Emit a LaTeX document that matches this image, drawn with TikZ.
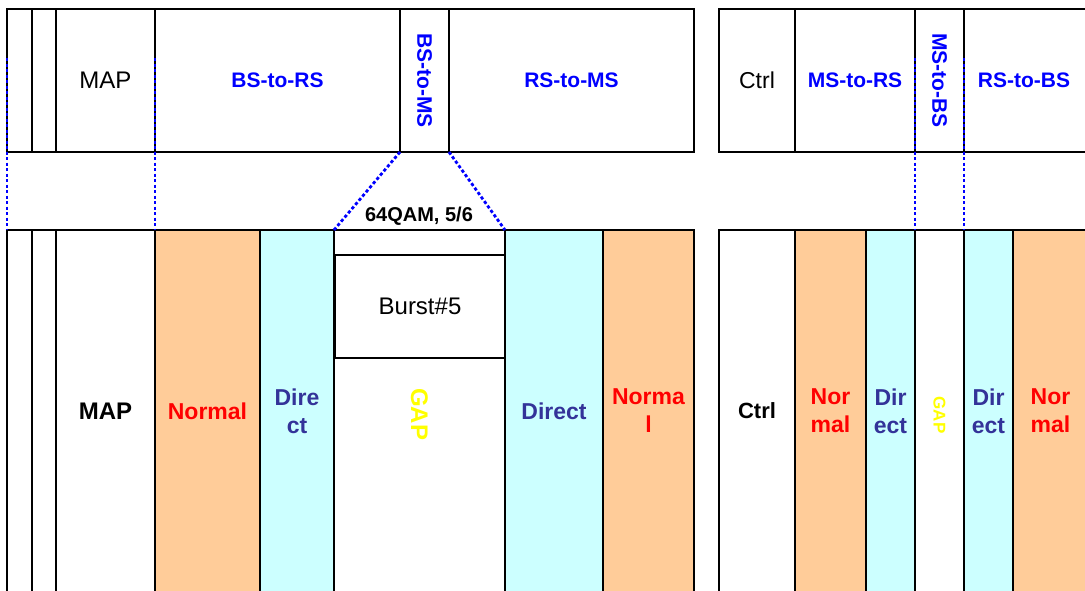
\documentclass[tikz,border=0pt]{standalone}
\usepackage{fontspec}
\usepackage{graphicx}
\setmainfont{Liberation Sans}
\definecolor{normalc}{HTML}{FFCC99}
\definecolor{directc}{HTML}{CCFFFF}
\definecolor{tblue}{HTML}{0000FF}
\definecolor{dblue}{HTML}{333399}
\definecolor{gapy}{HTML}{FFFF00}
\pgfdeclarelayer{bg}
\pgfsetlayers{bg,main}
\newcommand\mkcell[7][whitefill]{%
  \begin{pgfonlayer}{bg}\fill[#1] (#3,#4) rectangle (#5,#6);\end{pgfonlayer}
  \node[cell, minimum width={#5-#3}, minimum height={#6-#4}] (#2) at (#3,#4) {#7};}
\begin{document}
\begin{tikzpicture}[x=1pt,y=-1pt,
  cell/.style={draw=black, line width=1.3pt, anchor=north west, inner sep=0pt, outer sep=0pt, align=center},
  whitefill/.style={fill=white},
  normalfill/.style={fill=normalc},
  directfill/.style={fill=directc},
  txt/.style={align=center, inner sep=0pt},
  blueT/.style={txt, text=tblue, font=\bfseries\fontsize{21}{25}\selectfont},
  regT/.style={txt, font=\fontsize{24}{28}\selectfont},
  boldT/.style={txt, font=\bfseries\fontsize{24}{28}\selectfont},
  normT/.style={txt, text=red, font=\bfseries\fontsize{23}{28}\selectfont},
  dirT/.style={txt, text=dblue, font=\bfseries\fontsize{23}{28}\selectfont},
  gapT/.style={txt, text=gapy, font=\bfseries\fontsize{24}{28}\selectfont},
  gapS/.style={txt, text=gapy, font=\bfseries\fontsize{17}{20}\selectfont},
  qamT/.style={txt, font=\bfseries\fontsize{20}{24}\selectfont},
  dl/.style={draw=tblue, line width=2.8pt, dash pattern=on 3.2pt off 2.3pt}
]
\useasboundingbox (0,0) rectangle (1085,590);
\begin{pgfonlayer}{bg}
\fill[white] (0,0) rectangle (1085,590);
\end{pgfonlayer}
\clip (0,0) rectangle (1085,590);

% top left frame
\mkcell{tA}{7}{9}{32}{152}{}
\mkcell{tB}{32}{9}{56}{152}{}
\mkcell{tMAP}{56}{9}{155}{152}{}
\node[regT] at (tMAP.center) {MAP};
\mkcell{tBSRS}{155}{9}{400}{152}{}
\node[blueT] at (tBSRS.center) {BS-to-RS};
\mkcell{tBSMS}{400}{9}{449}{152}{}
\node[blueT] at (tBSMS.center) {\rotatebox{-90}{BS-to-MS}};
\mkcell{tRSMS}{449}{9}{694}{152}{}
\node[blueT] at (tRSMS.center) {RS-to-MS};

% top right frame
\mkcell{tCtrl}{719}{9}{795}{152}{}
\node[regT, font=\fontsize{23}{28}\selectfont] at (tCtrl.center) {Ctrl};
\mkcell{tMSRS}{795}{9}{915}{152}{}
\node[blueT] at (tMSRS.center) {MS-to-RS};
\mkcell{tMSBS}{915}{9}{964}{152}{}
\node[blueT] at (tMSBS.center) {\rotatebox{-90}{MS-to-BS}};
\mkcell{tRSBS}{964}{9}{1090}{152}{}
\node[blueT] at ([xshift=-3pt]tRSBS.center) {RS-to-BS};

% bottom left frame
\mkcell{bA}{7}{230}{32}{592}{}
\mkcell{bB}{32}{230}{56}{592}{}
\mkcell{bMAP}{56}{230}{155}{592}{}
\node[boldT] at (bMAP.center) {MAP};
\mkcell[normalfill]{bN1}{155}{230}{260}{592}{}
\node[normT] at (bN1.center) {Normal};
\mkcell[directfill]{bD1}{260}{230}{334}{592}{}
\node[dirT] at (bD1.center) {Dire\\ct};
\mkcell{bGAP}{334}{230}{505}{592}{}
\node[gapT] at ([yshift=-3pt]bGAP.center) {\rotatebox{-90}{GAP}};
\mkcell[directfill]{bD2}{505}{230}{603}{592}{}
\node[dirT] at (bD2.center) {Direct};
\mkcell[normalfill]{bN2}{603}{230}{694}{592}{}
\node[normT] at (bN2.center) {Norma\\l};
\mkcell{burst}{335}{255}{505}{358}{}
\node[regT] at (burst.center) {Burst\#5};

% bottom right frame
\mkcell{bCtrl}{719}{230}{795}{592}{}
\node[boldT, font=\bfseries\fontsize{22}{28}\selectfont] at (bCtrl.center) {Ctrl};
\mkcell[normalfill]{bN3}{795}{230}{866}{592}{}
\node[normT] at (bN3.center) {Nor\\mal};
\mkcell[directfill]{bD3}{866}{230}{915}{592}{}
\node[dirT] at (bD3.center) {Dir\\ect};
\mkcell{bGAP2}{915}{230}{964}{592}{}
\node[gapS] at ([yshift=-4pt]bGAP2.center) {\rotatebox{-90}{GAP}};
\mkcell[directfill]{bD4}{964}{230}{1013}{592}{}
\node[dirT] at (bD4.center) {Dir\\ect};
\mkcell[normalfill]{bN4}{1013}{230}{1090}{592}{}
\node[normT] at ([xshift=-1pt]bN4.center) {Nor\\mal};

% label
\node[qamT] (qam) at (419,216) {64QAM, 5/6};

% dashed connectors
\coordinate (d1) at (7,58);
\coordinate (d2) at (155,58);
\coordinate (d3) at (915,58);
\coordinate (d4) at (964,58);
\draw[dl] (d1) -- (bA.north west);
\draw[dl] (d2) -- (bN1.north west);
\draw[dl] (tBSMS.south west) -- (bGAP.north west);
\draw[dl] (tBSMS.south east) -- (bGAP.north east);
\draw[dl] (d3) -- (bGAP2.north west);
\draw[dl] (d4) -- (bGAP2.north east);
\end{tikzpicture}
\end{document}
